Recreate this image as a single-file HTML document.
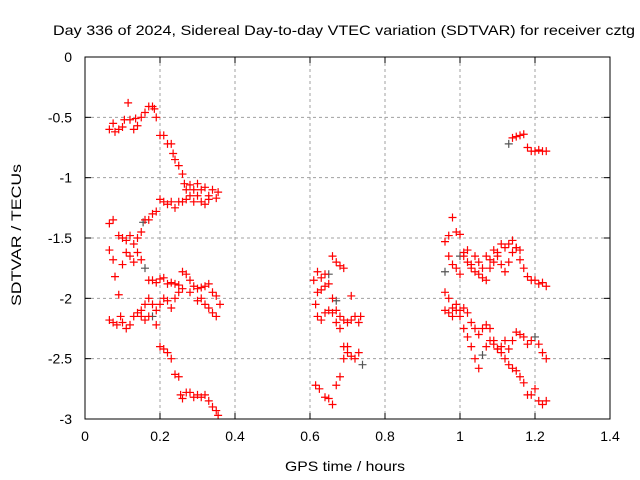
<!DOCTYPE html>
<html><head><meta charset="utf-8"><style>
body{margin:0;background:#fff;}
svg{display:block;font-family:"Liberation Sans",sans-serif;}
</style></head><body>
<svg id="chart" width="640" height="480">
<text x="344" y="35" text-anchor="middle" font-size="14" textLength="582" lengthAdjust="spacingAndGlyphs">Day 336 of 2024, Sidereal Day-to-day VTEC variation (SDTVAR) for receiver cztg</text>
<text x="345" y="471" text-anchor="middle" font-size="14" textLength="120" lengthAdjust="spacingAndGlyphs">GPS time / hours</text>
<text transform="translate(21,235) rotate(-90)" text-anchor="middle" font-size="14" textLength="142" lengthAdjust="spacingAndGlyphs">SDTVAR / TECUs</text>
<g id="grid"></g>
<g id="ticks"></g>
<g id="marks"></g>
<rect x="85" y="57" width="525" height="362" fill="none" stroke="#000" stroke-width="1"/>
</svg>
<script>
const xTicks=[0,0.2,0.4,0.6,0.8,1,1.2,1.4];
const xTickLabels=["0","0.2","0.4","0.6","0.8","1","1.2","1.4"];
const yTicks=[0,-0.5,-1,-1.5,-2,-2.5,-3];
const yTickLabels=["0","-0.5","-1","-1.5","-2","-2.5","-3"];
const redX=[0.065,0.075,0.08,0.09,0.1,0.105,0.115,0.12,0.13,0.135,0.14,0.15,0.16,0.17,0.18,0.185,0.19,
0.2,0.21,0.22,0.23,0.235,0.24,0.25,0.26,0.265,0.27,0.28,0.29,0.3,0.31,0.32,0.33,0.34,0.35,0.355,
0.065,0.075,0.09,0.1,0.11,0.12,0.13,0.14,0.15,0.16,0.17,0.18,0.19,0.2,0.21,0.22,0.23,0.24,0.25,0.26,0.27,0.28,0.29,0.3,0.31,0.32,0.33,
0.065,0.075,0.08,0.09,0.1,0.11,0.12,0.13,0.14,0.15,0.17,0.18,0.19,0.2,0.21,0.22,0.23,0.24,0.25,0.26,0.27,0.28,0.29,0.3,0.31,0.32,0.33,0.34,0.35,
0.065,0.075,0.085,0.095,0.1,0.11,0.12,0.13,0.14,0.15,0.16,0.17,0.18,0.19,0.2,0.21,0.22,0.23,0.24,0.25,0.26,0.28,0.3,0.31,0.32,0.33,0.34,0.35,0.36,
0.15,0.16,0.17,0.19,0.2,0.21,0.22,0.23,0.24,0.25,0.255,0.26,0.27,0.28,0.29,0.3,0.31,0.32,0.33,0.34,0.35,0.355,
0.61,0.62,0.63,0.64,0.66,0.67,0.68,0.69,
0.615,0.62,0.63,0.64,0.65,0.66,0.67,0.68,0.69,0.7,0.71,0.72,0.73,0.735,
0.62,0.63,0.64,0.65,0.66,0.67,0.68,0.69,0.7,0.71,0.72,0.73,
0.615,0.625,0.64,0.65,0.66,0.67,0.68,0.69,0.7,0.71,
0.96,0.97,0.98,0.99,1.0,1.01,1.02,1.03,1.04,1.05,1.06,1.07,1.08,1.09,1.1,1.11,1.12,1.13,1.14,1.15,1.16,1.17,1.18,1.19,1.2,1.21,1.22,1.23,
0.97,0.98,0.99,1.0,1.01,1.02,1.03,1.04,1.05,1.06,1.07,1.08,1.09,1.1,1.11,1.12,1.13,1.14,1.15,1.16,
0.96,0.97,0.98,0.99,1.0,1.01,1.02,1.03,1.04,1.05,1.07,1.08,1.09,1.1,1.11,1.12,1.13,1.14,1.15,1.16,1.17,1.18,1.19,1.21,1.22,1.23,
0.96,0.97,0.98,0.99,1.0,1.01,1.02,1.03,1.04,1.05,1.06,1.07,1.08,1.09,1.1,1.11,1.12,1.13,1.14,1.15,1.16,1.17,1.18,1.19,1.2,1.21,1.22,1.23,
1.14,1.15,1.16,1.17,1.18,1.19,1.2,1.21,1.22,1.23];
const redY=[-0.6,-0.55,-0.62,-0.6,-0.58,-0.52,-0.38,-0.52,-0.6,-0.51,-0.57,-0.5,-0.46,-0.41,-0.41,-0.43,-0.5,
-0.65,-0.65,-0.72,-0.72,-0.8,-0.85,-0.9,-0.97,-1.05,-1.1,-1.06,-1.1,-1.05,-1.1,-1.08,-1.15,-1.1,-1.17,-1.12,
-1.38,-1.35,-1.48,-1.5,-1.52,-1.48,-1.55,-1.5,-1.45,-1.35,-1.35,-1.3,-1.28,-1.18,-1.2,-1.22,-1.2,-1.25,-1.2,-1.2,-1.18,-1.15,-1.2,-1.15,-1.2,-1.22,-1.18,
-1.6,-1.68,-1.82,-1.97,-1.72,-1.62,-1.65,-1.7,-1.62,-1.68,-1.85,-1.85,-1.87,-1.84,-1.83,-1.88,-1.87,-1.88,-1.89,-1.78,-1.8,-1.85,-1.9,-1.92,-1.91,-1.9,-1.88,-1.95,-1.98,
-2.18,-2.2,-2.22,-2.15,-2.2,-2.25,-2.22,-2.15,-2.12,-2.1,-2.05,-2.0,-2.05,-2.1,-2.05,-2.0,-2.02,-2.08,-2.0,-1.95,-1.92,-1.95,-2.02,-2.0,-2.05,-2.08,-2.12,-2.15,-2.05,
-2.15,-2.18,-2.15,-2.22,-2.4,-2.42,-2.45,-2.5,-2.63,-2.65,-2.8,-2.83,-2.78,-2.78,-2.82,-2.8,-2.82,-2.8,-2.85,-2.9,-2.93,-2.97,
-1.85,-1.78,-1.83,-1.8,-1.65,-1.7,-1.73,-1.75,
-2.05,-1.95,-1.93,-1.9,-1.88,-2.0,-2.1,-2.15,-2.18,-2.2,-2.18,-2.15,-2.2,-2.15,
-2.15,-2.18,-2.12,-2.1,-2.12,-2.2,-2.25,-2.4,-2.45,-2.48,-2.5,-2.45,
-2.72,-2.75,-2.82,-2.83,-2.88,-2.72,-2.65,-2.5,-2.4,-1.98,
-1.53,-1.48,-1.33,-1.45,-1.47,-1.62,-1.7,-1.72,-1.65,-1.7,-1.75,-1.65,-1.68,-1.6,-1.62,-1.55,-1.58,-1.55,-1.52,-1.58,-1.68,-1.75,-1.82,-1.85,-1.85,-1.88,-1.87,-1.9,
-1.65,-1.72,-1.75,-1.8,-1.65,-1.6,-1.75,-1.78,-1.8,-1.83,-1.85,-1.75,-1.7,-1.65,-1.72,-1.78,-1.7,-1.62,-1.58,-1.6,
-1.95,-2.0,-2.08,-2.1,-2.15,-2.25,-2.32,-2.4,-2.5,-2.58,-2.4,-2.35,-2.38,-2.42,-2.4,-2.35,-2.42,-2.35,-2.28,-2.3,-2.32,-2.38,-2.35,-2.38,-2.45,-2.5,
-2.1,-2.12,-2.15,-2.05,-2.1,-2.08,-2.12,-2.2,-2.25,-2.3,-2.25,-2.22,-2.25,-2.35,-2.42,-2.45,-2.5,-2.55,-2.58,-2.6,-2.65,-2.7,-2.8,-2.8,-2.75,-2.85,-2.88,-2.85,
-0.67,-0.66,-0.65,-0.64,-0.75,-0.78,-0.78,-0.77,-0.78,-0.78];
const greyX=[0.16,0.18,0.155,0.65,0.67,0.74,0.96,1.0,1.13,1.2,1.06];
const greyY=[-1.75,-2.15,-1.37,-1.8,-2.02,-2.55,-1.78,-1.65,-0.72,-2.32,-2.47];
const L=85,R=610,T=57,B=419;
const xs=v=>L+(v-0)/(1.4-0)*(R-L);
const ys=v=>T+(0-v)/3*(B-T);
const NS="http://www.w3.org/2000/svg";
const grid=document.getElementById('grid'),ticks=document.getElementById('ticks'),marks=document.getElementById('marks');
function mk(tag,attrs,parent){const e=document.createElementNS(NS,tag);for(const k in attrs)e.setAttribute(k,attrs[k]);parent.appendChild(e);return e;}
xTicks.forEach((v,i)=>{const x=xs(v);
 if(i>0&&i<xTicks.length-1){const g=mk('line',{x1:x,x2:x,y1:T,y2:B,stroke:'#a0a0a0','stroke-dasharray':'3,3'},grid);
 
 }
 mk('line',{x1:x,x2:x,y1:B,y2:B-6,stroke:'#000'},ticks);mk('line',{x1:x,x2:x,y1:T,y2:T+6,stroke:'#000'},ticks);
 const t=mk('text',{x:x,y:441,'text-anchor':'middle','font-size':'14'},ticks);t.textContent=xTickLabels[i];
 
 
});
yTicks.forEach((v,i)=>{const y=ys(v);
 if(i>0&&i<yTicks.length-1){const g=mk('line',{x1:L,x2:R,y1:y,y2:y,stroke:'#a0a0a0','stroke-dasharray':'3,3'},grid);
 
 }
 mk('line',{x1:L,x2:L+6,y1:y,y2:y,stroke:'#000'},ticks);mk('line',{x1:R,x2:R-6,y1:y,y2:y,stroke:'#000'},ticks);
 const t=mk('text',{x:72,y:y+5,'text-anchor':'end','font-size':'14'},ticks);t.textContent=yTickLabels[i];
 
 
});
function cross(x,y,c){const p=mk('path',{d:`M${x-4} ${y}h8M${x} ${y-4}v8`,stroke:c,'stroke-width':'1.2',fill:'none'},marks);return p;}
greyX.forEach((v,i)=>{const p=cross(xs(v),ys(greyY[i]),'#555');
 
 });
redX.forEach((v,i)=>{const p=cross(xs(v),ys(redY[i]),'#ff0000');
 
 });
</script>
</body></html>
